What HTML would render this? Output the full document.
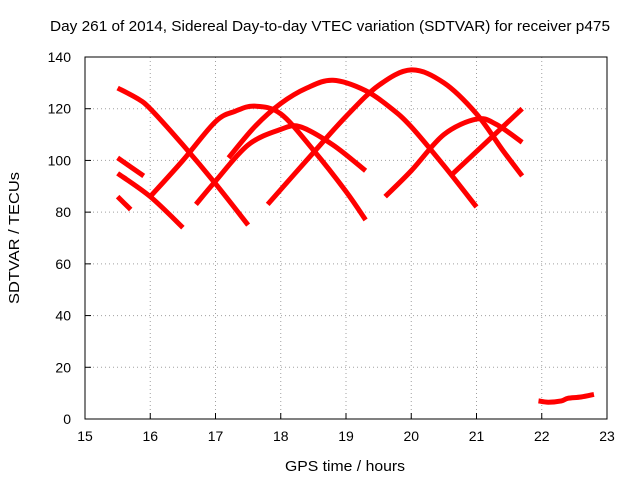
<!DOCTYPE html>
<html><head><meta charset="utf-8"><style>
body{margin:0;background:#fff}
svg{display:block;font-family:"Liberation Sans",sans-serif}
</style></head><body>
<svg id="chart" width="640" height="480">
<text x="330" y="31" font-size="15" text-anchor="middle" textLength="560" lengthAdjust="spacingAndGlyphs">Day 261 of 2014, Sidereal Day-to-day VTEC variation (SDTVAR) for receiver p475</text>
<text x="345" y="471" font-size="15" text-anchor="middle" textLength="120" lengthAdjust="spacingAndGlyphs">GPS time / hours</text>
<text x="19" y="238" font-size="15" text-anchor="middle" textLength="132" lengthAdjust="spacingAndGlyphs" transform="rotate(-90 19 238)">SDTVAR / TECUs</text>
<g id="grid"></g><g id="series"></g>
<rect x="85" y="57" width="522" height="362" fill="none" stroke="#000"/>
<g id="axes"></g>
</svg>
<script>
const xTicks=[15,16,17,18,19,20,21,22,23];
const yTicks=[0,20,40,60,80,100,120,140];
const arc1=[[15.5,128],[15.8,124],[16,120],[16.5,106],[17,91],[17.5,75]];
const arc2=[[15.5,101],[15.9,94]];
const arc3=[[15.5,95],[16,86],[16.5,74]];
const arc4=[[15.5,86],[15.7,81]];
const arc5=[[16,86],[16.5,100],[17,115],[17.3,119],[17.6,121],[18,118],[18.5,104],[19,88],[19.3,77]];
const arc6=[[16.7,83],[17,92],[17.5,106],[18,112],[18.3,113],[18.8,106],[19.3,96]];
const arc7=[[17.2,101],[17.6,113],[18,122],[18.4,128],[18.8,131],[19.3,127],[19.7,120],[20,113],[20.5,98],[21,82]];
const arc8=[[17.8,83],[18.5,103],[19,117],[19.5,129],[20,135],[20.5,130],[21,118],[21.4,104],[21.7,94]];
const arc9=[[19.6,86],[20,96],[20.5,110],[21,116],[21.3,114],[21.7,107]];
const arc10=[[20.6,94],[21.7,120]];
const arc11=[[21.95,7],[22.1,6.5],[22.3,7],[22.4,8],[22.6,8.5],[22.8,9.5]];
const seriesList=[arc1,arc2,arc3,arc4,arc5,arc6,arc7,arc8,arc9,arc10,arc11];
const NS="http://www.w3.org/2000/svg";
const X=v=>85+(v-15)*522/8, Y=v=>419-v*362/140;
const grid=document.getElementById('grid'),axes=document.getElementById('axes'),ser=document.getElementById('series');
function mk(tag,at,parent){const e=document.createElementNS(NS,tag);for(const k in at)e.setAttribute(k,at[k]);parent.appendChild(e);return e;}
function smooth(pts){
 const p=pts.map(d=>[X(d[0]),Y(d[1])]);
 let s='M'+p[0][0]+','+p[0][1];
 for(let i=0;i<p.length-1;i++){
  const a=p[Math.max(i-1,0)],b=p[i],c=p[i+1],d=p[Math.min(i+2,p.length-1)];
  const c1=[b[0]+(c[0]-a[0])/6,b[1]+(c[1]-a[1])/6],c2=[c[0]-(d[0]-b[0])/6,c[1]-(d[1]-b[1])/6];
  s+=' C'+c1+' '+c2+' '+c;
 }
 return s;
}
xTicks.forEach(t=>{
 const g=mk('line',{x1:X(t),x2:X(t),y1:57,y2:419,stroke:'#a0a0a0','stroke-dasharray':'1,3'},grid);
 
 
 const tk=mk('line',{x1:X(t),x2:X(t),y1:419,y2:413,stroke:'#000'},axes);
 
 
 const tx=mk('text',{x:X(t),y:441,'font-size':14,'text-anchor':'middle'},axes);tx.textContent=t;
 
 
});
yTicks.forEach(t=>{
 const g=mk('line',{x1:85,x2:607,y1:Y(t),y2:Y(t),stroke:'#a0a0a0','stroke-dasharray':'1,3'},grid);
 
 
 const tk=mk('line',{x1:85,x2:91,y1:Y(t),y2:Y(t),stroke:'#000'},axes);
 
 
 const tx=mk('text',{x:71,y:Y(t)+5,'font-size':14,'text-anchor':'end'},axes);tx.textContent=t;
 
 
});
seriesList.forEach((s,i)=>{
 const p=mk('path',{d:smooth(s),fill:'none',stroke:'#ff0000','stroke-width':5,'stroke-linejoin':'round'},ser);
 
 
});
</script>
</body></html>
